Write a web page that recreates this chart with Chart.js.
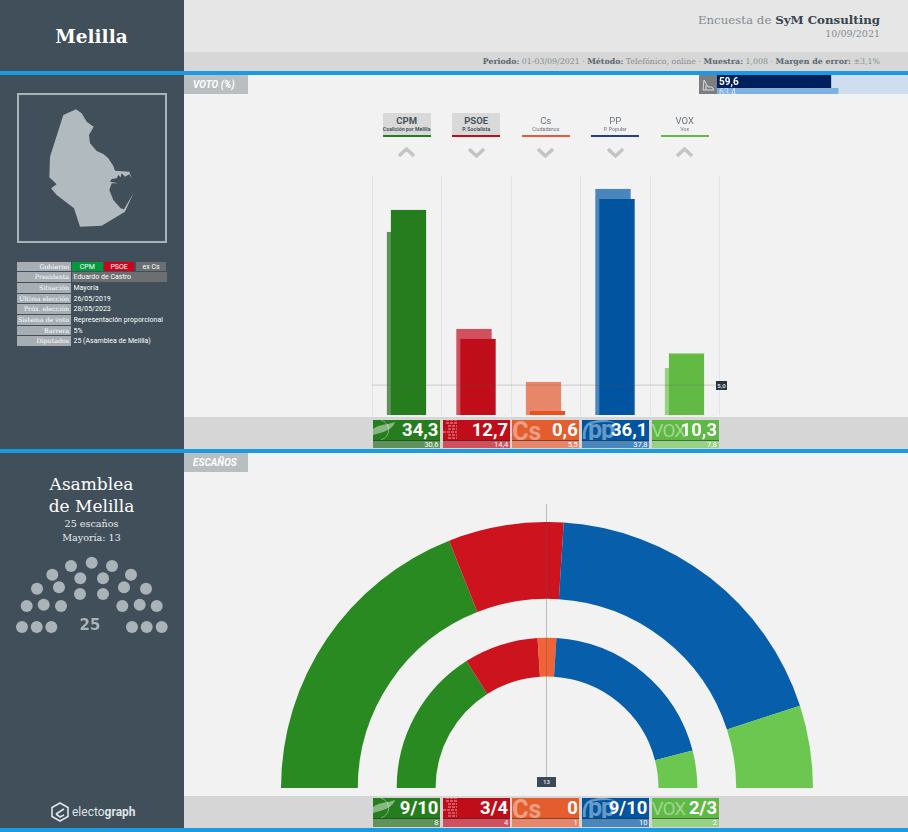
<!DOCTYPE html>
<html>
<head>
<meta charset="utf-8">
<title>Melilla</title>
<script src="https://cdn.jsdelivr.net/npm/chart.js"></script>
<style>
html, body { margin: 0; padding: 0; }
body { width: 908px; height: 832px; position: relative; overflow: hidden; background: #f2f2f2; font-family: Roboto, sans-serif; }
.abs, canvas { position: absolute; }
.slab { font-family: "DejaVu Serif", serif; }
.blue { position: absolute; left: 0; width: 908px; height: 4px; background: #1a9ae0; }
.tab { position: absolute; left: 184px; width: 64px; height: 19px; line-height: 19px; background: #b9bec1; color: #fff; font-size: 10px; font-weight: bold; font-style: italic; padding-left: 9px; box-sizing: border-box; }
.band { position: absolute; left: 184px; width: 724px; background: #d6d6d6; }
.row { position: absolute; height: 9.5px; line-height: 10.5px; font-size: 7px; color: #fff; white-space: nowrap; overflow: hidden; }
.rowlabel { left: 17px; width: 54px; background: #a6aeb3; text-align: right; padding-right: 2px; box-sizing: border-box; font-family: "DejaVu Serif", serif; font-size: 6.3px; }
.rowval { left: 73.5px; width: 93px; }
.head { position: absolute; top: 113px; width: 48px; height: 24px; text-align: center; color: #6b757d; box-sizing: border-box; white-space: nowrap; }
.head b, .head span { display: block; }
.head b { color: #46535e; }
.head .n { font-size: 9.5px; line-height: 10px; margin-top: 2.5px; }
.head .s { font-size: 5.2px; line-height: 7px; }
.tile { position: absolute; width: 67px; overflow: hidden; color: #fff; }
.tile .up { position: absolute; left: 0; top: 0; width: 67px; height: 20px; border-bottom: 1px solid rgba(40,50,55,.55); overflow: hidden; }
.tile .num { position: absolute; right: 1.5px; top: -2px; font-size: 18.5px; line-height: 24px; font-weight: bold; }
.tile .low { position: absolute; left: 0; top: 21px; width: 67px; height: 7.5px; line-height: 8px; font-size: 7.5px; text-align: right; padding-right: 1.5px; box-sizing: border-box; }
.tile .logo { position: absolute; left: 0; top: -3px; font-size: 22px; line-height: 25px; font-weight: bold; color: rgba(255,255,255,.42); white-space: nowrap; }
.badge { position: absolute; background: #26343f; color: #d5d9dc; font-size: 6px; font-weight: bold; text-align: center; }
</style>
</head>
<body>

<!-- sidebar and header -->
<div class="abs" style="left:0;top:0;width:184px;height:832px;background:#404f5a"></div>
<div class="abs" style="left:184px;top:0;width:724px;height:52px;background:#e6e6e6"></div>
<div class="abs" style="left:184px;top:52px;width:724px;height:19px;background:#d7d7d7"></div>
<div class="abs slab" style="left:0;top:23px;width:183px;text-align:center;color:#fff;font-size:18.5px;line-height:28px;font-weight:bold">Melilla</div>
<div class="abs slab" style="right:28px;top:11px;font-size:11.8px;line-height:18px;color:#848b91;white-space:nowrap">Encuesta de <b style="color:#37444f">SyM Consulting</b></div>
<div class="abs slab" style="right:28px;top:27px;font-size:9.5px;line-height:14px;color:#848b91">10/09/2021</div>
<div class="abs slab" style="right:28px;top:55px;font-size:7.85px;line-height:13px;color:#848b91;white-space:nowrap"><b style="color:#5a666f">Periodo:</b> 01-03/09/2021 · <b style="color:#5a666f">Método:</b> Telefónico, online · <b style="color:#5a666f">Muestra:</b> 1,008 · <b style="color:#5a666f">Margen de error:</b> ±3,1%</div>

<div class="band" style="top:417px;height:32px"></div>
<div class="band" style="top:796px;height:32px"></div>
<div class="blue" style="top:71px"></div>
<div class="blue" style="top:449px"></div>
<div class="blue" style="top:828px"></div>
<div class="tab" style="top:75px">VOTO (%)</div>
<div class="tab" style="top:453px">ESCAÑOS</div>

<!-- map of the city -->
<div class="abs" style="left:17px;top:93px;width:150px;height:150px;border:2px solid #a9b3b8;box-sizing:border-box"></div>
<svg class="abs" style="left:0;top:80px" width="184" height="170" viewBox="0 0 552 510">
<path fill="#b1babe" d="M228 88L245 100L260 125L281 140L267 165L270 190L290 213L310 222L325 235L340 258L345 272L388 275L396 297L388 283L375 290L365 280L362 292L355 285L350 295L335 297L330 305L355 310L335 310L328 330L340 360L362 385L372 388L400 340L375 395L305 437L240 440L222 385L170 345L153 325L170 313L148 292L150 230L190 105Z"/>
</svg>

<div id="infoTable"></div>

<!-- parliament -->
<div class="abs slab" style="left:0;top:473px;width:183px;text-align:center;color:#fff;font-size:17px;line-height:22px">Asamblea<br>de Melilla</div>
<div class="abs slab" style="left:0;top:517px;width:183px;text-align:center;color:#e8ebed;font-size:9.6px;line-height:13.5px">25 escaños<br>Mayoría: 13</div>
<canvas id="seatChart" width="184" height="100" style="left:0;top:550px"></canvas>
<div class="abs" style="left:0;top:615px;width:180px;text-align:center;color:#a9b3b8;font-family:'DejaVu Sans';font-weight:bold;font-size:15px;line-height:20px">25</div>

<!-- electograph logo -->
<svg class="abs" style="left:51px;top:802px" width="18" height="20" viewBox="0 0 18 20">
<path d="M9 1L17 5.5V14.5L9 19L1 14.5V5.5Z" fill="none" stroke="#dfe3e5" stroke-width="1.6"/>
<path d="M5 12L13 7M5 12L9 15L13 13" fill="none" stroke="#dfe3e5" stroke-width="1.6"/>
</svg>
<div class="abs" style="left:72px;top:804px;font-size:12px;line-height:16px;color:#dfe3e5;white-space:nowrap">electo<b>graph</b></div>

<!-- bloc bar top right -->
<div class="abs" style="left:699px;top:75px;width:18px;height:19px;background:#7b7f82"></div>
<svg class="abs" style="left:699px;top:75px" width="18" height="19" viewBox="0 0 18 19">
<path d="M4 15H15M4 15L5 5L9 12H13L15 15M7 15V10" fill="none" stroke="#dcdcdc" stroke-width="1"/>
</svg>
<div class="abs" style="left:717px;top:75px;width:191px;height:19px;background:#cfdeee"></div>
<canvas id="blocNow" width="191" height="13" style="left:717px;top:75px"></canvas>
<canvas id="blocPrev" width="191" height="6" style="left:717px;top:88px"></canvas>
<div class="abs" style="left:719px;top:75px;font-size:10px;line-height:13px;font-weight:bold;color:#fff" id="blocNowText"></div>
<div class="abs" style="left:719px;top:88px;height:6px;overflow:hidden;font-size:9px;line-height:9px;color:#d5e4f4" id="blocPrevText"></div>

<!-- vote chart -->
<div id="heads"></div>
<canvas id="voteChart" width="724" height="247" style="left:184px;top:170px"></canvas>
<div class="badge" id="limitBadge" style="left:716px;width:11px;height:9px;line-height:9px"></div>
<div id="voteTiles"></div>

<!-- seat rings -->
<canvas id="ringChart" width="532" height="266" style="left:281px;top:522px"></canvas>
<div class="abs" style="left:546px;top:504px;width:1px;height:274px;background:rgba(90,90,90,.35)"></div>
<div class="badge" style="left:537px;top:777px;width:19px;height:10px;line-height:10px;background:#3a4a56">13</div>
<div id="seatTiles"></div>

<script>
var parties = ['CPM', 'PSOE', 'Cs', 'PP', 'VOX'];
var partyNames = ['Coalición por Melilla', 'P. Socialista', 'Ciudadanos', 'P. Popular', 'Vox'];
var trend = ['up', 'down', 'down', 'down', 'up'];
var govParties = ['CPM', 'PSOE'];
var logos = ['', '', 'Cs', 'pp', 'VOX'];

var voteNow = [34.3, 12.7, 0.6, 36.1, 10.3];
var votePrev = [30.6, 14.4, 5.5, 37.8, 7.8];
var voteLimit = 5;
var voteMax = 40;

var blocNow = 59.6;
var blocPrev = 63.4;

var seatRange = ['9/10', '3/4', '0', '9/10', '2/3'];
var seatEstimate = [9.5, 3.5, 0, 9.5, 2.5];
var seatPrev = [8, 4, 1, 10, 2];

var colorNow = ['#257d1d', '#c00d1a', '#e8521f', '#0054a0', '#62ba45'];
var colorPrev = ['#5f9359', '#d0505e', '#e8866a', '#4a85bb', '#97d183'];
var colorTile = ['#257d1d', '#c00d1a', '#e35d2f', '#0054a0', '#5fb945'];
var colorRing = ['#2a8a22', '#cc131e', '#ef6337', '#075eab', '#6bc74f'];
var colorHead = ['#257d1d', '#c00d1a', '#e8583a', '#26408f', '#62ba45'];

var seatDotsX = [22, 36.7, 51.3, 132, 146.7, 161.7, 26.7, 43.7, 61, 122.3, 139.7, 156.7, 37, 59, 80, 103, 124, 146, 52.3, 80.3, 103, 131, 71, 91.7, 112];
var seatDotsY = [167, 167, 167, 167, 167, 167, 146, 144.7, 146, 146, 144.7, 146, 128.7, 127.3, 134, 134, 127.3, 128.7, 114.7, 118.3, 118.3, 114.7, 106, 102.7, 106];

var infoLabels = ['Gobierno', 'Presidenta', 'Situación', 'Última elección', 'Próx. elección', 'Sistema de voto', 'Barrera', 'Diputados'];
var infoValues = ['', 'Eduardo de Castro', 'Mayoría', '26/05/2019', '28/05/2023', 'Representación proporcional', '5%', '25 (Asamblea de Melilla)'];
var govNames = ['CPM', 'PSOE', 'ex Cs'];
var govColors = ['#009a3c', '#d0021b', '#6c6f71'];

function comma(v) {
    return v.toFixed(1).replace('.', ',');
}

function addHtml(id, html) {
    document.getElementById(id).insertAdjacentHTML('beforeend', html);
}

// left table
infoLabels.forEach(function (label, i) {
    var top = 261.7 + i * 10.67;
    addHtml('infoTable', '<div class="row rowlabel" style="top:' + top + 'px">' + label + '</div>');
    if (i === 0) {
        govNames.forEach(function (g, k) {
            addHtml('infoTable', '<div class="row" style="top:' + top + 'px;left:' + (72 + k * 31.9) + 'px;width:30.5px;text-align:center;background:' + govColors[k] + '">' + g + '</div>');
        });
    } else {
        var bg = i === 1 ? 'background:#6c6f71;left:72px;width:94.5px;padding-left:1.5px;box-sizing:border-box;' : '';
        addHtml('infoTable', '<div class="row rowval" style="top:' + top + 'px;' + bg + '">' + infoValues[i] + '</div>');
    }
});

// party heads above the chart
parties.forEach(function (p, i) {
    var left = 382.7 + i * 69.5;
    var active = govParties.indexOf(p) >= 0;
    var style = 'left:' + left + 'px;border-bottom:2px solid ' + colorHead[i] + ';' + (active ? 'background:#d9d9d9;' : '');
    var b = active ? '<b class="n">' + p + '</b><b class="s">' + partyNames[i] + '</b>' : '<span class="n">' + p + '</span><span class="s">' + partyNames[i] + '</span>';
    addHtml('heads', '<div class="head" style="' + style + '">' + b + '</div>');
    var pts = trend[i] === 'up' ? '1,9 8.5,2 16,9' : '1,2 8.5,9 16,2';
    addHtml('heads', '<svg class="abs" style="left:' + (left + 15.5) + 'px;top:146.5px" width="17" height="11"><polyline points="' + pts + '" fill="none" stroke="#c4c4c4" stroke-width="3.4"/></svg>');
});

function logoHtml(i) {
    if (i === 0) {
        return '<svg class="abs" style="left:0;top:0" width="24" height="20"><path d="M0 9C6 4 14 5 22 2C20 9 12 12 0 15Z" fill="rgba(255,255,255,.45)"/><path d="M8 0A13 11 0 0 1 8 20" fill="none" stroke="rgba(255,255,255,.4)"/></svg>';
    }
    if (i === 1) {
        return '<svg class="abs" style="left:0;top:0" width="18" height="20"><path d="M3 0H14M3 3H14M5 6H14M5 9H14M0 12H14M5 15H14M5 18H14" stroke="rgba(255,255,255,.42)" stroke-width="1.6" stroke-dasharray="3 1"/></svg>';
    }
    if (i === 2) {
        return '<div class="logo" style="font-size:25px;left:0;top:-1px">' + logos[i] + '</div>';
    }
    if (i === 3) {
        return '<svg class="abs" style="left:0;top:0" width="38" height="20"><path d="M1 19C0 9 3 2 12 1C18 -1 28 0 34 3C25 1 14 2 7 5C4 9 3 14 4 19Z" fill="rgba(255,255,255,.4)"/></svg><div class="logo" style="font-size:25px;left:6px;top:-3px;letter-spacing:-1px">' + logos[i] + '</div>';
    }
    return '<div class="logo" style="font-size:19px;left:0;top:-2px;letter-spacing:-1px;font-weight:normal">' + logos[i] + '</div>';
}

function addTiles(target, top, mainTexts, smallTexts) {
    parties.forEach(function (p, i) {
        var html = '<div class="tile" style="left:' + (373 + i * 69.63) + 'px;top:' + top + 'px;height:28.5px;background:' + colorPrev[i] + '">';
        html += '<div class="up" style="background:' + colorTile[i] + '">' + logoHtml(i) + '<div class="num">' + mainTexts[i] + '</div></div>';
        html += '<div class="low">' + smallTexts[i] + '</div></div>';
        addHtml(target, html);
    });
}
addTiles('voteTiles', 419.7, voteNow.map(comma), votePrev.map(comma));
addTiles('seatTiles', 798, seatRange, seatPrev);

document.getElementById('blocNowText').textContent = comma(blocNow);
document.getElementById('blocPrevText').textContent = comma(blocPrev);

Chart.defaults.animation = false;
Chart.defaults.responsive = false;
Chart.defaults.devicePixelRatio = 1;
Chart.defaults.plugins.legend.display = false;
Chart.defaults.plugins.tooltip.enabled = false;

// moves a bar dataset sideways so previous and current overlap with a small step
var shiftPlugin = {
    id: 'shift',
    beforeDatasetDraw: function (chart, args) {
        chart.ctx.save();
        chart.ctx.translate(chart.data.datasets[args.index].shift || 0, 0);
    },
    afterDatasetDraw: function (chart) {
        chart.ctx.restore();
    }
};

var limitPlugin = {
    id: 'limit',
    afterDatasetsDraw: function (chart) {
        var y = chart.scales.y.getPixelForValue(voteLimit);
        var area = chart.chartArea;
        chart.ctx.save();
        chart.ctx.strokeStyle = 'rgba(90,90,90,.25)';
        chart.ctx.lineWidth = 1;
        chart.ctx.beginPath();
        chart.ctx.moveTo(area.left, y);
        chart.ctx.lineTo(area.right, y);
        chart.ctx.stroke();
        chart.ctx.restore();
        var badge = document.getElementById('limitBadge');
        badge.textContent = comma(voteLimit);
        badge.style.top = (170 + y - 4.5) + 'px';
    }
};

new Chart(document.getElementById('voteChart'), {
    type: 'bar',
    data: {
        labels: parties,
        datasets: [
            { data: voteNow, backgroundColor: colorNow, borderColor: colorNow, borderWidth: 1, barThickness: 35, grouped: false, order: 1, shift: 1.75 },
            { data: votePrev, backgroundColor: colorPrev, borderColor: colorPrev, borderWidth: 1, barThickness: 35, grouped: false, order: 2, shift: -2.25 }
        ]
    },
    options: {
        layout: { padding: { left: 188, right: 188.5, top: 6, bottom: 2 } },
        scales: {
            x: { ticks: { display: false }, border: { display: false }, grid: { color: '#e4e4e4', drawTicks: false } },
            y: { display: false, min: 0, max: voteMax }
        }
    },
    plugins: [shiftPlugin, limitPlugin]
});

function blocChart(id, value, color) {
    new Chart(document.getElementById(id), {
        type: 'bar',
        data: { labels: [''], datasets: [{ data: [value], backgroundColor: color, barPercentage: 1, categoryPercentage: 1 }] },
        options: {
            indexAxis: 'y',
            scales: { x: { display: false, min: 0, max: 100 }, y: { display: false } }
        }
    });
}
blocChart('blocNow', blocNow, '#011f5b');
blocChart('blocPrev', blocPrev, '#7fb0df');

new Chart(document.getElementById('ringChart'), {
    type: 'doughnut',
    data: {
        labels: parties,
        datasets: [
            { data: seatEstimate, backgroundColor: colorRing, borderWidth: 0, weight: 77 },
            { data: [1], backgroundColor: 'rgba(0,0,0,0)', borderWidth: 0, weight: 39 },
            { data: seatPrev, backgroundColor: colorRing, borderWidth: 0, weight: 39 }
        ]
    },
    options: { rotation: -90, circumference: 180, cutout: '41.9%' }
});

new Chart(document.getElementById('seatChart'), {
    type: 'scatter',
    data: {
        datasets: [{
            data: seatDotsX.map(function (x, i) { return { x: x, y: seatDotsY[i] }; }),
            pointRadius: 6,
            pointBackgroundColor: '#a9b3b8',
            pointBorderWidth: 0
        }]
    },
    options: {
        layout: { autoPadding: false },
        scales: {
            // the canvas starts 90px under the zoomed origin, so y spans 90..190
            x: { display: false, min: 0, max: 184 },
            y: { display: false, min: 90, max: 190, reverse: true }
        }
    }
});
</script>
</body>
</html>
